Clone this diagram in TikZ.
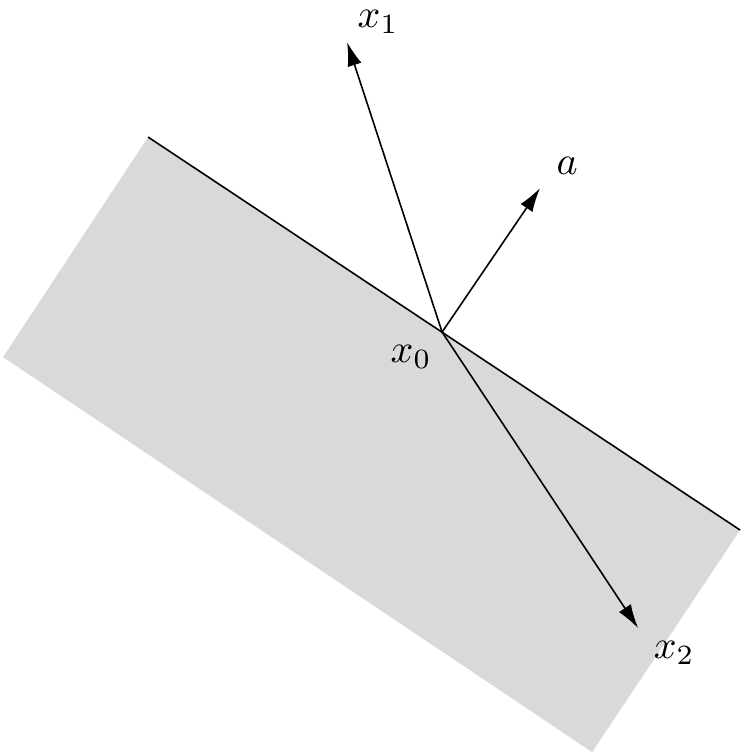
\documentclass[tikz,border=0pt]{standalone}
\usetikzlibrary{arrows.meta}
\tikzset{
    vec/.style={
           -{Latex[length=6pt,width=3.6pt]},
           thin,
           },
    halfspace/.style={
           fill=black!15,
           draw=none,
           },
    lbl/.style={
           inner sep=1pt,
           },
}

\begin{document}
\begin{tikzpicture}
        % keep the margins of the reference
        \useasboundingbox (-3.89,-3.73) rectangle (2.71,2.922);

        % corners of the shaded halfspace
        \coordinate (H_TL) at (-2.587,1.716);
        \coordinate (H_L)  at (-3.863,-0.220);
        \coordinate (H_B)  at (1.320,-3.696);
        \coordinate (H_R)  at (2.622,-1.742);
        \fill[halfspace] (H_TL) -- (H_L) -- (H_B) -- (H_R) -- cycle;

        % boundary hyperplane
        \draw[thin] (H_TL) -- (H_R);

        % base point and vector tips
        \coordinate (X0) at (0,0);
        \coordinate (T_X1) at (-0.836,2.552);
        \coordinate (T_A)  at (0.862,1.267);
        \coordinate (T_X2) at (1.725,-2.605);

        % labels
        \node[lbl] (L_X0) at (-0.273,-0.220) {$x_0$};
        \node[lbl] (L_X1) at (-0.563,2.730) {$x_1$};
        \node[lbl] (L_A)  at (1.100,1.461) {$a$};
        \node[lbl] (L_X2) at (2.042,-2.825) {$x_2$};

        % vectors
        \draw[vec] (X0) -- (T_X1);
        \draw[vec] (X0) -- (T_A);
        \draw[vec] (X0) -- (T_X2);
\end{tikzpicture}
\end{document}
